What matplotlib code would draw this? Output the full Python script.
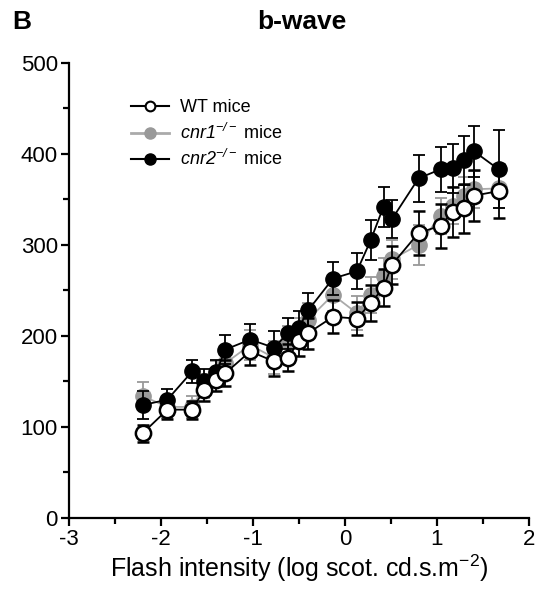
import matplotlib
matplotlib.use("Agg")
import matplotlib.pyplot as plt
from matplotlib.ticker import MultipleLocator
from matplotlib.lines import Line2D

plt.rcParams["font.family"] = ["Liberation Sans", "DejaVu Sans"]
plt.rcParams["mathtext.fontset"] = "custom"
plt.rcParams["mathtext.rm"] = "Liberation Sans:italic"
plt.rcParams["mathtext.it"] = "Liberation Sans:italic"
plt.rcParams["mathtext.sf"] = "Liberation Sans"

# flash intensities (log scot. cd.s.m-2)
wt_x = [-2.20, -1.93, -1.66, -1.53, -1.40, -1.30, -1.03, -0.77, -0.62, -0.50, -0.40,
        -0.13, 0.13, 0.28, 0.42, 0.51, 0.80, 1.04, 1.17, 1.30, 1.40, 1.67]
wt_y = [93, 119, 119, 141, 152, 159, 183, 172, 176, 194, 203,
        221, 219, 236, 253, 278, 313, 321, 336, 340, 354, 359]
wt_err = [9, 10, 10, 12, 13, 14, 15, 16, 15, 16, 17,
          18, 18, 20, 20, 21, 24, 24, 27, 27, 28, 30]

cnr1_y = [134, 122, 122, 145, 158, 170, 190, 176, 194, 203, 218,
          245, 225, 245, 266, 284, 300, 332, 343, 354, 361, 362]
cnr1_err = [15, 12, 12, 13, 14, 14, 16, 18, 17, 17, 18,
            18, 19, 20, 20, 21, 22, 20, 20, 20, 20, 22]

cnr2_y = [124, 130, 161, 150, 160, 185, 196, 187, 203, 209, 228,
          263, 271, 305, 342, 328, 373, 383, 384, 393, 403, 383]
cnr2_err = [15, 12, 13, 14, 14, 16, 17, 18, 17, 18, 19,
            18, 20, 22, 22, 21, 26, 25, 27, 27, 28, 43]

x_ticks = [-3, -2, -1, 0, 1, 2]
y_ticks = [0, 100, 200, 300, 400, 500]
labels = ["WT mice", r"$\mathit{cnr1}^{-/-}$ mice", r"$\mathit{cnr2}^{-/-}$ mice"]

fig = plt.figure(figsize=(5.43, 5.92), dpi=100)
ax = fig.add_axes([0.127, 0.125, 0.847, 0.769])

gray = "#999999"
ax.errorbar(wt_x, cnr1_y, yerr=cnr1_err, color="#aaaaaa", ecolor=gray, elinewidth=1.3,
            capsize=4.5, capthick=1.3, marker="o", markersize=11, mfc=gray, mec=gray,
            lw=1.3, zorder=2)
ax.errorbar(wt_x, cnr2_y, yerr=cnr2_err, color="black", ecolor="black", elinewidth=1.3,
            capsize=4.5, capthick=1.3, marker="o", markersize=11, mfc="black", mec="black",
            lw=1.3, zorder=3)
ax.errorbar(wt_x, wt_y, yerr=wt_err, color="black", ecolor="black", elinewidth=1.3,
            capsize=4.5, capthick=1.3, marker="o", markersize=11, mfc="white", mec="black",
            mew=1.8, lw=1.3, zorder=4)

ax.set_xlim(-3, 2)
ax.set_ylim(0, 500)
ax.set_xticks(x_ticks, [str(t) for t in x_ticks])
ax.set_yticks(y_ticks, [str(t) for t in y_ticks])
ax.xaxis.set_minor_locator(MultipleLocator(0.5))
ax.yaxis.set_minor_locator(MultipleLocator(50))
for s in ["top", "right"]:
    ax.spines[s].set_visible(False)
for s in ["left", "bottom"]:
    ax.spines[s].set_linewidth(1.6)
ax.tick_params(which="major", length=6, width=1.6, labelsize=16, pad=2)
ax.tick_params(which="minor", length=4, width=1.6)
ax.set_xlabel(r"Flash intensity (log scot. cd.s.m$^{\mathsf{-2}}$)", fontsize=18, labelpad=2)

leg_h = [Line2D([], [], color="black", lw=1.5, marker="o", ms=7, mfc="white", mec="black", mew=1.5),
         Line2D([], [], color="#aaaaaa", lw=2, marker="o", ms=8, mfc=gray, mec=gray),
         Line2D([], [], color="black", lw=1.5, marker="o", ms=8, mfc="black", mec="black")]
ax.legend(leg_h, labels, loc="upper left", bbox_to_anchor=(0.10, 0.955), frameon=False,
          fontsize=13, handlelength=2.1, handletextpad=0.6, labelspacing=0.35)

fig.text(0.022, 0.962, "B", fontsize=19, fontweight="bold", ha="left", va="center")
fig.text(0.555, 0.962, "b-wave", fontsize=19, fontweight="bold", ha="center", va="center")

fig.savefig("out.png", dpi=100)
